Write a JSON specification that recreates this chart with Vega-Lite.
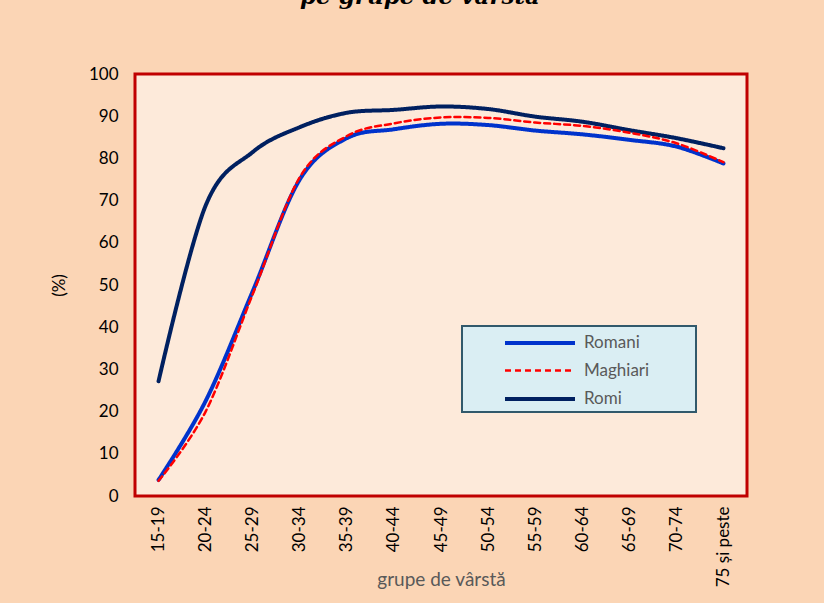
{
  "$schema": "https://vega.github.io/schema/vega-lite/v6.json",
  "width": 612,
  "height": 422,
  "autosize": {"type": "none"},
  "padding": {"left": 135, "top": 74, "right": 77, "bottom": 107},
  "background": "#FBD5B5",
  "title": {
    "text": "pe grupe de vârstă",
    "font": "DejaVu Serif",
    "fontStyle": "italic",
    "fontWeight": "bold",
    "fontSize": 23,
    "color": "#000000",
    "anchor": "middle",
    "baseline": "alphabetic",
    "dx": -21,
    "offset": 38
  },
  "config": {
    "view": {"fill": "#FDEADA", "stroke": "#C00000", "strokeWidth": 3}
  },
  "data": {
    "values": [
      {"varsta": "15-19", "grup": "Romani", "pct": 3.8},
      {"varsta": "20-24", "grup": "Romani", "pct": 22.5},
      {"varsta": "25-29", "grup": "Romani", "pct": 48.5},
      {"varsta": "30-34", "grup": "Romani", "pct": 75},
      {"varsta": "35-39", "grup": "Romani", "pct": 84.8},
      {"varsta": "40-44", "grup": "Romani", "pct": 86.9},
      {"varsta": "45-49", "grup": "Romani", "pct": 88.2},
      {"varsta": "50-54", "grup": "Romani", "pct": 87.9},
      {"varsta": "55-59", "grup": "Romani", "pct": 86.6},
      {"varsta": "60-64", "grup": "Romani", "pct": 85.7},
      {"varsta": "65-69", "grup": "Romani", "pct": 84.4},
      {"varsta": "70-74", "grup": "Romani", "pct": 82.8},
      {"varsta": "75 și peste", "grup": "Romani", "pct": 78.8},
      {"varsta": "15-19", "grup": "Romi", "pct": 27.2},
      {"varsta": "20-24", "grup": "Romi", "pct": 68.8},
      {"varsta": "25-29", "grup": "Romi", "pct": 81.5},
      {"varsta": "30-34", "grup": "Romi", "pct": 87.4},
      {"varsta": "35-39", "grup": "Romi", "pct": 90.8},
      {"varsta": "40-44", "grup": "Romi", "pct": 91.5},
      {"varsta": "45-49", "grup": "Romi", "pct": 92.3},
      {"varsta": "50-54", "grup": "Romi", "pct": 91.7},
      {"varsta": "55-59", "grup": "Romi", "pct": 89.9},
      {"varsta": "60-64", "grup": "Romi", "pct": 88.7},
      {"varsta": "65-69", "grup": "Romi", "pct": 86.7},
      {"varsta": "70-74", "grup": "Romi", "pct": 84.8},
      {"varsta": "75 și peste", "grup": "Romi", "pct": 82.4},
      {"varsta": "15-19", "grup": "Maghiari", "pct": 3.6},
      {"varsta": "20-24", "grup": "Maghiari", "pct": 20},
      {"varsta": "25-29", "grup": "Maghiari", "pct": 47.8},
      {"varsta": "30-34", "grup": "Maghiari", "pct": 75.5},
      {"varsta": "35-39", "grup": "Maghiari", "pct": 85.3},
      {"varsta": "40-44", "grup": "Maghiari", "pct": 88.3},
      {"varsta": "45-49", "grup": "Maghiari", "pct": 89.7},
      {"varsta": "50-54", "grup": "Maghiari", "pct": 89.6},
      {"varsta": "55-59", "grup": "Maghiari", "pct": 88.5},
      {"varsta": "60-64", "grup": "Maghiari", "pct": 87.7},
      {"varsta": "65-69", "grup": "Maghiari", "pct": 86.1},
      {"varsta": "70-74", "grup": "Maghiari", "pct": 83.6},
      {"varsta": "75 și peste", "grup": "Maghiari", "pct": 79.1}
    ]
  },
  "mark": {"type": "line", "interpolate": "cardinal", "strokeCap": "round"},
  "encoding": {
    "x": {
      "field": "varsta",
      "type": "ordinal",
      "sort": ["15-19", "20-24", "25-29", "30-34", "35-39", "40-44", "45-49", "50-54", "55-59", "60-64", "65-69", "70-74", "75 și peste"],
      "axis": {
        "title": "grupe de vârstă",
        "labelAngle": -90,
        "labelFont": "Lato",
        "labelFontSize": 17,
        "labelColor": "#000000",
        "labelPadding": 10,
        "ticks": false,
        "domain": false,
        "titleFont": "Lato",
        "titleFontSize": 19,
        "titleFontWeight": "normal",
        "titleColor": "#595959",
        "titleY": 74
      }
    },
    "y": {
      "field": "pct",
      "type": "quantitative",
      "scale": {"domain": [0, 100]},
      "axis": {
        "title": "(%)",
        "values": [0, 10, 20, 30, 40, 50, 60, 70, 80, 90, 100],
        "grid": false,
        "ticks": false,
        "domain": false,
        "labelFont": "Lato",
        "labelFontSize": 17,
        "labelColor": "#000000",
        "labelPadding": 17,
        "titleFont": "Lato",
        "titleFontSize": 17,
        "titleFontWeight": "normal",
        "titleColor": "#000000",
        "titlePadding": 20
      }
    },
    "color": {
      "field": "grup",
      "type": "nominal",
      "scale": {"domain": ["Romani", "Maghiari", "Romi"], "range": ["#0033CC", "#FF0000", "#002060"]},
      "legend": {
        "title": null,
        "orient": "none",
        "legendX": 327,
        "legendY": 252,
        "symbolType": "M-3.5,0H3.5M14.3,0",
        "symbolSize": 400,
        "symbolOffset": 61,
        "labelOffset": 32,
        "labelFont": "Lato",
        "labelFontSize": 17,
        "labelColor": "#595959",
        "fillColor": "#DAEEF3",
        "strokeColor": "#31596B",
        "padding": 5,
        "rowPadding": 8,
        "encode": {"legend": {"update": {"strokeWidth": {"value": 2}}}}
      }
    },
    "strokeDash": {
      "field": "grup",
      "type": "nominal",
      "scale": {"domain": ["Romani", "Maghiari", "Romi"], "range": [[1, 0], [6, 4], [1, 0]]},
      "legend": {
        "title": null,
        "orient": "none",
        "legendX": 327,
        "legendY": 252,
        "symbolType": "M-3.5,0H3.5M14.3,0",
        "symbolSize": 400,
        "symbolOffset": 61,
        "labelOffset": 32,
        "labelFont": "Lato",
        "labelFontSize": 17,
        "labelColor": "#595959",
        "fillColor": "#DAEEF3",
        "strokeColor": "#31596B",
        "padding": 5,
        "rowPadding": 8
      }
    },
    "strokeWidth": {
      "field": "grup",
      "type": "nominal",
      "scale": {"type": "ordinal", "domain": ["Romani", "Maghiari", "Romi"], "range": [4, 2.5, 4]},
      "legend": {
        "title": null,
        "orient": "none",
        "legendX": 327,
        "legendY": 252,
        "symbolType": "M-3.5,0H3.5M14.3,0",
        "symbolSize": 400,
        "symbolOffset": 61,
        "labelOffset": 32,
        "labelFont": "Lato",
        "labelFontSize": 17,
        "labelColor": "#595959",
        "fillColor": "#DAEEF3",
        "strokeColor": "#31596B",
        "padding": 5,
        "rowPadding": 8
      }
    }
  }
}
